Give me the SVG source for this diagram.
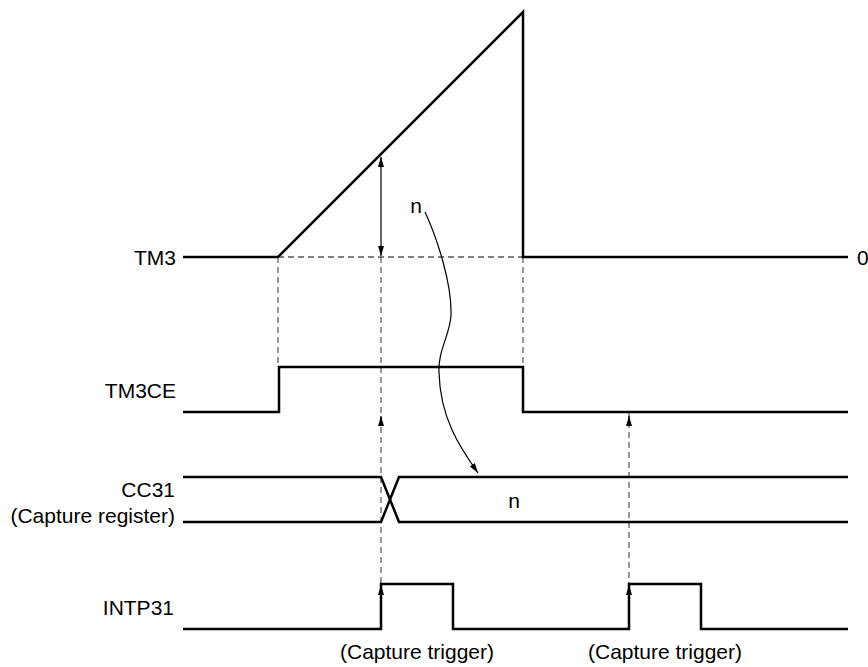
<svg xmlns="http://www.w3.org/2000/svg" width="868" height="667" viewBox="0 0 868 667">
<style>
text{font-family:"Liberation Sans",Arial,sans-serif;font-size:21px;fill:#000}
.lbl{text-anchor:end}
.sig{fill:none;stroke:#000;stroke-width:2.5;stroke-linejoin:miter}
.dash{fill:none;stroke:#555;stroke-width:1.2;stroke-dasharray:6,4}
.dashk{fill:none;stroke:#000;stroke-width:1.2;stroke-dasharray:6,4}
.thin{fill:none;stroke:#000;stroke-width:1.2}
</style>
<defs>
<marker id="ah" viewBox="0 0 10 10" refX="10" refY="5" markerWidth="10" markerHeight="10" markerUnits="userSpaceOnUse" orient="auto-start-reverse">
<path d="M0,2 L10,5 L0,8 Z" fill="#000"/>
</marker>
</defs>
<rect width="868" height="667" fill="#fff"/>
<g id="connectors">
<path class="dashk" d="M278,257 H523"/>
<path class="dash" d="M278,257 V367"/>
<path class="dash" d="M523,257 V367"/>
<path class="dash" d="M381,257 V584"/>
<path class="dash" d="M629,412 V584"/>
<path class="thin" d="M381,416 V426" marker-start="url(#ah)"/>
<path class="thin" d="M629,416 V426" marker-start="url(#ah)"/>
<path class="thin" d="M381,157 V256" marker-start="url(#ah)" marker-end="url(#ah)"/>
<path class="thin" d="M425,212 C438,240 452,285 451,315 C450,335 438,350 439,372 C440,420 462,450 478,473" marker-end="url(#ah)"/>
</g>
<g id="TM3">
<text class="lbl" x="176" y="265">TM3</text>
<path class="sig" d="M183,257 H278 L523,12 V257 H848"/>
<text x="857" y="265">0</text>
<text x="416" y="213" text-anchor="middle">n</text>
</g>
<g id="TM3CE">
<text class="lbl" x="176" y="398">TM3CE</text>
<path class="sig" d="M183,412 H279 V367 H523 V412 H848"/>
</g>
<g id="CC31">
<text class="lbl" x="175" y="497">CC31</text>
<text class="lbl" x="175" y="523">(Capture register)</text>
<path class="sig" d="M183,477 H381 L399,522 H848"/>
<path class="sig" d="M183,522 H381 L399,477 H848"/>
<text x="514" y="508" text-anchor="middle">n</text>
</g>
<g id="INTP31">
<text class="lbl" x="174" y="615">INTP31</text>
<path class="sig" d="M183,629 H381 V584 H453 V629 H629 V584 H701 V629 H848"/>
<path class="thin" d="M381,585 V596" marker-start="url(#ah)"/>
<path class="thin" d="M629,585 V596" marker-start="url(#ah)"/>
<text x="417" y="659" text-anchor="middle">(Capture trigger)</text>
<text x="665" y="659" text-anchor="middle">(Capture trigger)</text>
</g>
</svg>
